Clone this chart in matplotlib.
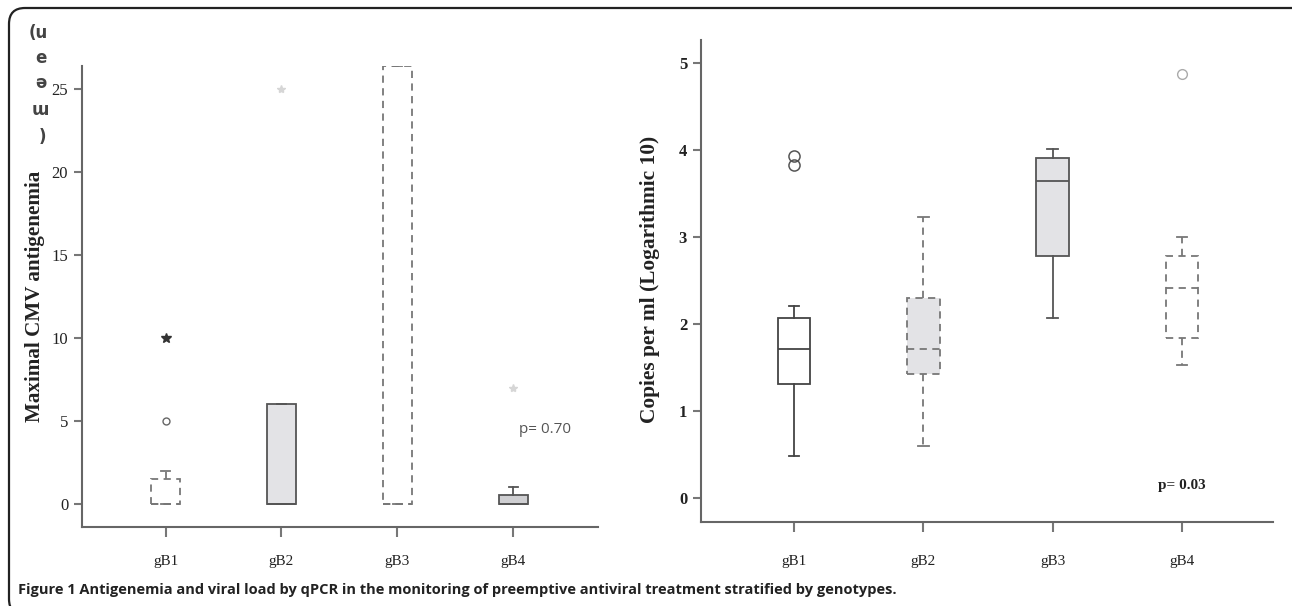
import matplotlib.pyplot as plt
from matplotlib.patches import FancyBboxPatch

# ---- data ----
groups = ['gB1', 'gB2', 'gB3', 'gB4']

# left: maximal CMV antigenemia
ant_q1 = [0, 0, 0, 0]
ant_med = [0, 0, 0, 0]
ant_q3 = [1.5, 6, 26.4, 0.5]
ant_lo = [0, 0, 0, 0]
ant_hi = [2, 6, 26.4, 1]
ant_circles = [[5], [], [], []]
ant_stars = [[10], [], [], []]
ant_faint_stars = [[], [25], [], [7]]

# right: copies per ml (log10)
vl_q1 = [1.31, 1.42, 2.78, 1.84]
vl_med = [1.71, 1.71, 3.64, 2.41]
vl_q3 = [2.07, 2.29, 3.90, 2.78]
vl_lo = [0.48, 0.59, 2.06, 1.53]
vl_hi = [2.20, 3.23, 4.01, 3.00]
vl_circles = [[3.82, 3.93], [], [], []]
vl_faint_circles = [[], [], [], [4.87]]

# box styles: (face, edge, linestyle)
ant_style = [('white', '#777777', (0, (4, 3))),
             ('#e3e3e6', '#555555', '-'),
             ('white', '#777777', (0, (4, 3))),
             ('#cfcfd2', '#555555', '-')]
vl_style = [('white', '#444444', '-'),
            ('#e3e3e6', '#777777', (0, (4, 3))),
            ('#e3e3e6', '#555555', '-'),
            ('white', '#777777', (0, (4, 3)))]

serif = ['Liberation Serif', 'DejaVu Serif']

fig = plt.figure(figsize=(12.92, 6.06), dpi=100)

# rounded frame, right and bottom sides run off the picture
frame = FancyBboxPatch((0.09, -0.09), 13.2, 6.07,
                       boxstyle='round,pad=0,rounding_size=0.16',
                       transform=fig.dpi_scale_trans, facecolor='none',
                       edgecolor='#222222', linewidth=1.6)
fig.add_artist(frame)


def draw_boxes(ax, q1, med, q3, lo, hi, styles):
    for i in range(len(q1)):
        face, edge, ls = styles[i]
        st = [dict(med=med[i], q1=q1[i], q3=q3[i], whislo=lo[i], whishi=hi[i], fliers=[])]
        ax.bxp(st, positions=[i + 1], widths=0.25, capwidths=0.08,
               patch_artist=True, showfliers=False, manage_ticks=False,
               boxprops=dict(facecolor=face, edgecolor=edge, linestyle=ls, linewidth=1.3),
               medianprops=dict(color=edge, linestyle=ls, linewidth=1.3),
               whiskerprops=dict(color=edge, linestyle=ls, linewidth=1.3),
               capprops=dict(color=edge, linewidth=1.3))


def style_axes(ax, xpad, bold):
    for s in ['top', 'right']:
        ax.spines[s].set_visible(False)
    for s in ['left', 'bottom']:
        ax.spines[s].set_color('#666666')
        ax.spines[s].set_linewidth(1.5)
    ax.tick_params(axis='y', length=6, width=1.5, color='#777777', pad=4)
    ax.tick_params(axis='x', length=7, width=1.5, color='#777777', pad=xpad)
    ax.set_xticks(range(1, 5))
    ax.set_xticklabels(groups, fontfamily=serif, fontsize=11, color='#222222')
    for lab in ax.get_yticklabels():
        lab.set_fontfamily(serif)
        lab.set_fontsize(12)
        lab.set_color('#222222')
        if bold:
            lab.set_fontweight('bold')


# ---- left panel ----
ax1 = fig.add_axes([0.0635, 0.1304, 0.3994, 0.7607])
draw_boxes(ax1, ant_q1, ant_med, ant_q3, ant_lo, ant_hi, ant_style)
for i in range(4):
    x = i + 1
    for v in ant_circles[i]:
        ax1.plot(x, v, 'o', ms=5, mfc='none', mec='#666666', mew=1.0, ls=(0, (1, 1)))
    for v in ant_stars[i]:
        ax1.plot(x, v, '*', ms=7, color='#333333')
    for v in ant_faint_stars[i]:
        ax1.plot(x, v, '*', ms=6, color='#d6d6d6')
ax1.set_xlim(0.28, 4.73)
ax1.set_ylim(-1.4, 26.4)
ax1.set_yticks([0, 5, 10, 15, 20, 25])
style_axes(ax1, 13, False)
ax1.text(4.05, 4.5, 'p= 0.70', fontfamily='Open Sans', fontsize=11, color='#555555', va='center')
fig.text(35 / 1292, 1 - 296 / 606, 'Maximal CMV antigenemia', rotation=90,
         ha='center', va='center', fontfamily=serif, fontweight='bold', fontsize=15.2, color='#222222')
for s, px, py in [('(u', 38, 33), ('e', 41, 58), ('ǝ', 41, 83), ('ɯ', 40, 110), (')', 42, 137)]:
    fig.text(px / 1292, 1 - py / 606, s, ha='center', va='center',
             fontfamily=['DejaVu Sans'], fontweight='bold', fontsize=12, color='#444444')

# ---- right panel ----
ax2 = fig.add_axes([0.5426, 0.1386, 0.4427, 0.7954])
draw_boxes(ax2, vl_q1, vl_med, vl_q3, vl_lo, vl_hi, vl_style)
for i in range(4):
    x = i + 1
    for v in vl_circles[i]:
        ax2.plot(x, v, 'o', ms=8, mfc='none', mec='#555555', mew=1.1)
    for v in vl_faint_circles[i]:
        ax2.plot(x, v, 'o', ms=7, mfc='none', mec='#aaaaaa', mew=1.0)
ax2.set_xlim(0.28, 4.705)
ax2.set_ylim(-0.28, 5.26)
ax2.set_yticks([0, 1, 2, 3, 4, 5])
style_axes(ax2, 17, True)
ax2.text(4.0, 0.14, 'p= 0.03', ha='center', va='center', fontfamily=serif,
         fontweight='bold', fontsize=11, color='#222222')
fig.text(650 / 1292, 1 - 279 / 606, 'Copies per ml (Logarithmic 10)', rotation=90,
         ha='center', va='center', fontfamily=serif, fontweight='bold', fontsize=15.4, color='#222222')

# ---- caption ----
fig.text(18 / 1292, 1 - 590 / 606,
         'Figure 1 Antigenemia and viral load by qPCR in the monitoring of preemptive antiviral treatment stratified by genotypes.',
         fontfamily='Open Sans', fontweight='bold', fontsize=10.5, color='#222222', va='center')

fig.savefig('out.png', dpi=100)
